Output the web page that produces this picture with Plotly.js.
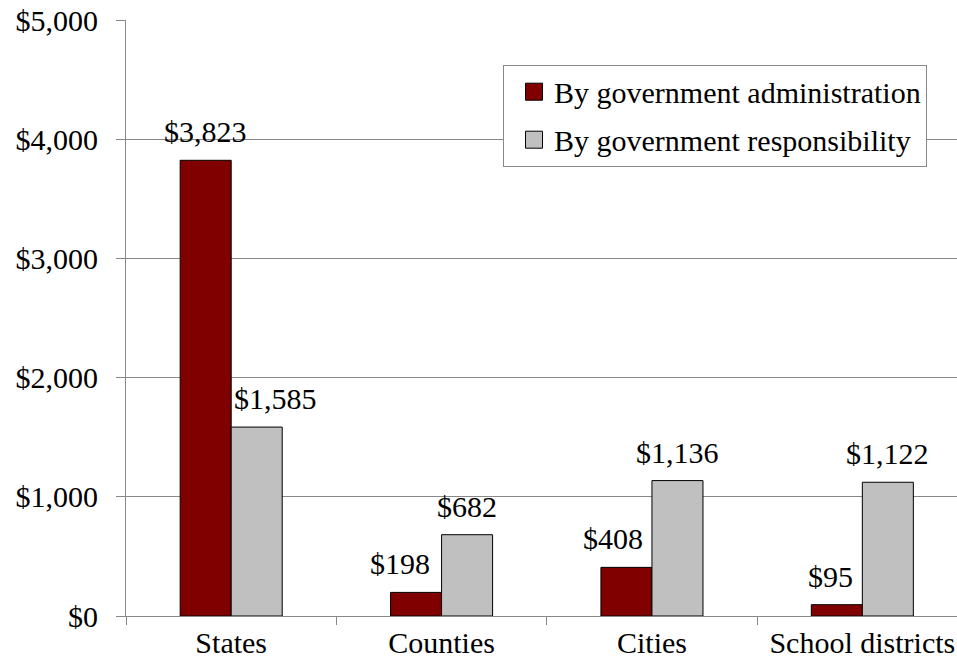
<!DOCTYPE html>
<html>
<head>
<meta charset="utf-8">
<script src="https://cdn.plot.ly/plotly-3.0.1.min.js"></script>
<style>
html,body{margin:0;padding:0;background:#fff;}
.g{width:957px;height:667px;}
</style>
</head>
<body>
<div id="g" class="g"></div>
<script>
const categories = ["States", "Counties", "Cities", "School districts"];
const seriesNames = ["By government administration", "By government responsibility"];
const administration = [3823, 198, 408, 95];
const responsibility = [1585, 682, 1136, 1122];
const yTicks = [0, 1000, 2000, 3000, 4000, 5000];

function money(v) {
  return "$" + String(v).replace(/\B(?=(\d{3})+(?!\d))/g, ",");
}
const F = "Liberation Serif";
const BARGAP = 0.515;
const halfBar = (1 - BARGAP) / 4;

const adminLabelNudge = [0, -16, -13, -6];
const respLabelNudge = [19, 0, 0, 0];

const traces = [
  {
    type: "bar", name: seriesNames[0], x: categories, y: administration,
    marker: {color: "#800000", line: {color: "#000", width: 1}},
    legendgroup: "a", hoverinfo: "skip"
  },
  {
    type: "bar", name: seriesNames[1], x: categories, y: responsibility,
    marker: {color: "#C0C0C0", line: {color: "#000", width: 1}},
    legendgroup: "b", hoverinfo: "skip"
  }
];

const annotations = [];
[[administration, -halfBar, adminLabelNudge], [responsibility, halfBar, respLabelNudge]].forEach(function (s) {
  const vals = s[0], off = s[1], nudge = s[2];
  vals.forEach(function (v, i) {
    annotations.push({
      xref: "x", yref: "y", x: i + off, y: v,
      text: money(v), showarrow: false,
      xanchor: "center", yanchor: "bottom",
      xshift: nudge[i], yshift: 10,
      font: {family: F, size: 30, color: "#000"}
    });
  });
});

const layout = {
  width: 957, height: 667,
  margin: {l: 126, r: 0, t: 20, b: 51, pad: 0},
  paper_bgcolor: "#fff", plot_bgcolor: "#fff",
  font: {family: F, size: 30, color: "#000"},
  barmode: "group", bargap: BARGAP, bargroupgap: 0,
  showlegend: true,
  annotations: annotations,
  legend: {
    x: 0.4537, xanchor: "left", y: 0.925, yanchor: "top",
    bgcolor: "#fff", bordercolor: "#888", borderwidth: 1,
    font: {family: F, size: 30, color: "#000"},
    traceorder: "grouped", tracegroupgap: 6, indentation: 10
  },
  xaxis: {
    type: "category", range: [-0.5, 3.45],
    tickson: "boundaries", ticks: "outside", ticklen: 8, tickcolor: "#888",
    showline: true, linecolor: "#888", linewidth: 1,
    showgrid: false, zeroline: false,
    tickfont: {family: F, size: 30, color: "#000"}
  },
  yaxis: {
    range: [0, 5000], tickvals: yTicks, ticktext: yTicks.map(money),
    ticks: "outside", ticklen: 9, tickcolor: "#888",
    showline: true, linecolor: "#888", linewidth: 1,
    showgrid: true, gridcolor: "#888", gridwidth: 1, zeroline: false,
    ticklabelstandoff: 12,
    tickfont: {family: F, size: 30, color: "#000"}
  }
};

Plotly.newPlot("g", traces, layout, {displayModeBar: false}).then(function (gd) {
  gd.querySelectorAll(".legend .legendpoints path").forEach(function (p) {
    p.setAttribute("d", "M8.5,8.5H-8.5V-8.5H8.5Z");
  });
  gd.querySelectorAll("text").forEach(function (t) {
    t.setAttribute("font-family", F);
    t.style.fontFamily = "'" + F + "'";
  });
});
</script>
</body>
</html>
